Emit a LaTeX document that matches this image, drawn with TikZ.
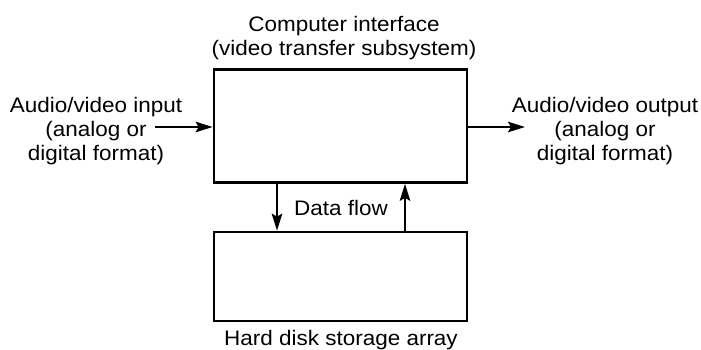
\documentclass[tikz,border=0pt]{standalone}
\usepackage{fontspec}
\setmainfont{Liberation Sans}[FakeStretch=1.07]
\usetikzlibrary{arrows.meta}
\begin{document}
\begin{tikzpicture}[x=1pt,y=-1pt,
  box/.style={draw,line width=2.7pt,inner sep=0pt,minimum width=253pt},
  lbl/.style={inner sep=0pt,align=center,font=\fontsize{21}{23.7}\selectfont},
  flow/.style={line width=2.1pt,-{Stealth[length=17pt,width=10.5pt,inset=3pt]}}]
\useasboundingbox (0,0) rectangle (701,350);
\node[box,minimum height=113pt] (ci) at (340.5,126) {};
\node[box,minimum height=89pt] (hd) at (340.5,276.5) {};
\node[lbl,anchor=base] (tl) at (344,55.6) {Computer interface\\(video transfer subsystem)};
\node[lbl,anchor=base] (in) at (96,160.1) {Audio/video input\\(analog or\\digital format)};
\node[lbl,anchor=base] (out) at (605,160.1) {Audio/video output\\(analog or\\digital format)};
\node[lbl,anchor=base] (df) at (341,215) {Data flow};
\node[lbl,anchor=base] (hl) at (341,345) {Hard disk storage array};
\coordinate (ia) at (155,127);
\coordinate (oa) at (525,127);
\draw[flow] (ia) -- (ia -| ci.west);
\draw[flow] (oa -| ci.east) -- (oa);
\draw[flow] ([xshift=-63.5pt]ci.south) -- ([xshift=-63.5pt]hd.north);
\draw[flow] ([xshift=64.5pt]hd.north) -- ([xshift=64.5pt]ci.south);
\end{tikzpicture}
\end{document}
